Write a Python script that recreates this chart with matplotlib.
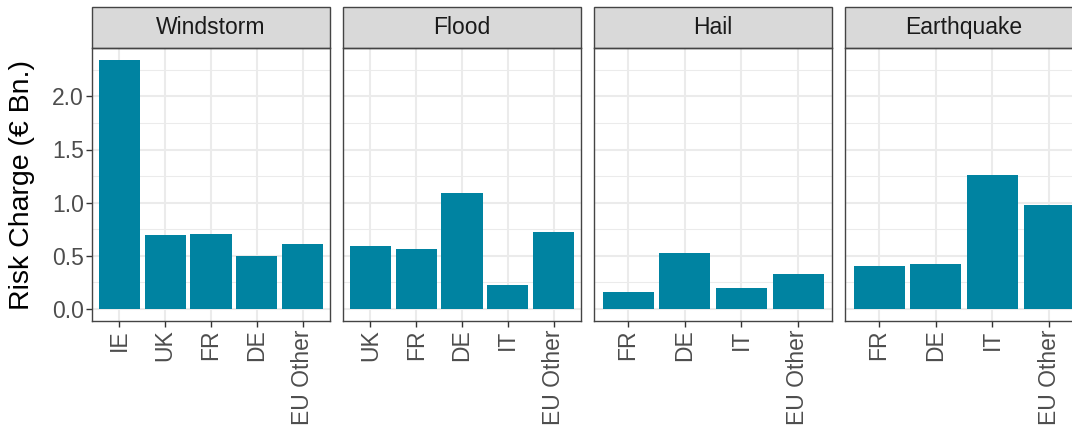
import matplotlib; matplotlib.use('Agg')
import matplotlib.pyplot as plt
from matplotlib.patches import Rectangle
from matplotlib.ticker import MultipleLocator, FormatStrFormatter

plt.rcParams['font.family'] = ['Liberation Sans', 'DejaVu Sans']

# ---- data ----
perils = ['Windstorm', 'Flood', 'Hail', 'Earthquake']
windstorm_cats = ['IE', 'UK', 'FR', 'DE', 'EU Other']
windstorm_vals = [2.34, 0.695, 0.70, 0.50, 0.61]
flood_cats = ['UK', 'FR', 'DE', 'IT', 'EU Other']
flood_vals = [0.59, 0.565, 1.09, 0.225, 0.72]
hail_cats = ['FR', 'DE', 'IT', 'EU Other']
hail_vals = [0.16, 0.525, 0.19, 0.33]
quake_cats = ['FR', 'DE', 'IT', 'EU Other']
quake_vals = [0.40, 0.42, 1.26, 0.975]

panels = [(windstorm_cats, windstorm_vals), (flood_cats, flood_vals),
          (hail_cats, hail_vals), (quake_cats, quake_vals)]

W, H = 1072, 432
fig = plt.figure(figsize=(W / 100, H / 100), dpi=100)

bar_col = '#0083A1'
grid_col = '#EBEBEB'
edge_col = '#444444'
fs = 16.5

ymax = max(max(v) for _, v in panels)
ylo, yhi = -0.05 * ymax, 1.05 * ymax

left0, pw, gap = 92, 238, 13
top, bot = 48, 321
strip_h = 41

for i, (name, (cats, vals)) in enumerate(zip(perils, panels)):
    x0 = left0 + i * (pw + gap)
    ax = fig.add_axes([x0 / W, 1 - bot / H, pw / W, (bot - top) / H])
    xs = range(len(cats))
    ax.bar(xs, vals, width=0.9, color=bar_col, zorder=3)
    ax.set_xlim(-0.6, len(cats) - 0.4)
    ax.set_ylim(ylo, yhi)
    ax.set_xticks(list(xs))
    ax.set_xticklabels(cats, rotation=90, ha='center', va='top',
                       fontsize=fs, color='#4D4D4D')
    ax.yaxis.set_major_locator(MultipleLocator(0.5))
    ax.yaxis.set_minor_locator(MultipleLocator(0.25))
    ax.yaxis.set_major_formatter(FormatStrFormatter('%.1f'))
    ax.grid(which='major', color=grid_col, lw=1.5, zorder=0)
    ax.grid(which='minor', axis='y', color=grid_col, lw=0.75, zorder=0)
    ax.set_axisbelow(True)
    ax.tick_params(axis='both', which='major', length=4, width=1.0,
                   color='#333333', labelsize=fs, labelcolor='#4D4D4D', pad=2)
    ax.tick_params(axis='y', which='minor', length=0)
    if i > 0:
        ax.tick_params(axis='y', which='both', left=False, labelleft=False)
    for s in ax.spines.values():
        s.set_color(edge_col)
        s.set_linewidth(1.0)
        s.set_zorder(4)

    # strip
    sh = strip_h / (bot - top)
    ax.add_patch(Rectangle((0, 1), 1, sh, transform=ax.transAxes,
                           facecolor='#D9D9D9', edgecolor=edge_col, lw=1.0,
                           clip_on=False))
    ax.text(0.5, 1 + sh / 2, name, transform=ax.transAxes, ha='center',
            va='center', fontsize=fs, color='#1A1A1A')

fig.text(22 / W, 1 - 184.5 / H, 'Risk Charge (€ Bn.)', rotation=90,
         ha='center', va='center', fontsize=20.5, color='black')

plt.savefig('out.png', dpi=100)
plt.close()
